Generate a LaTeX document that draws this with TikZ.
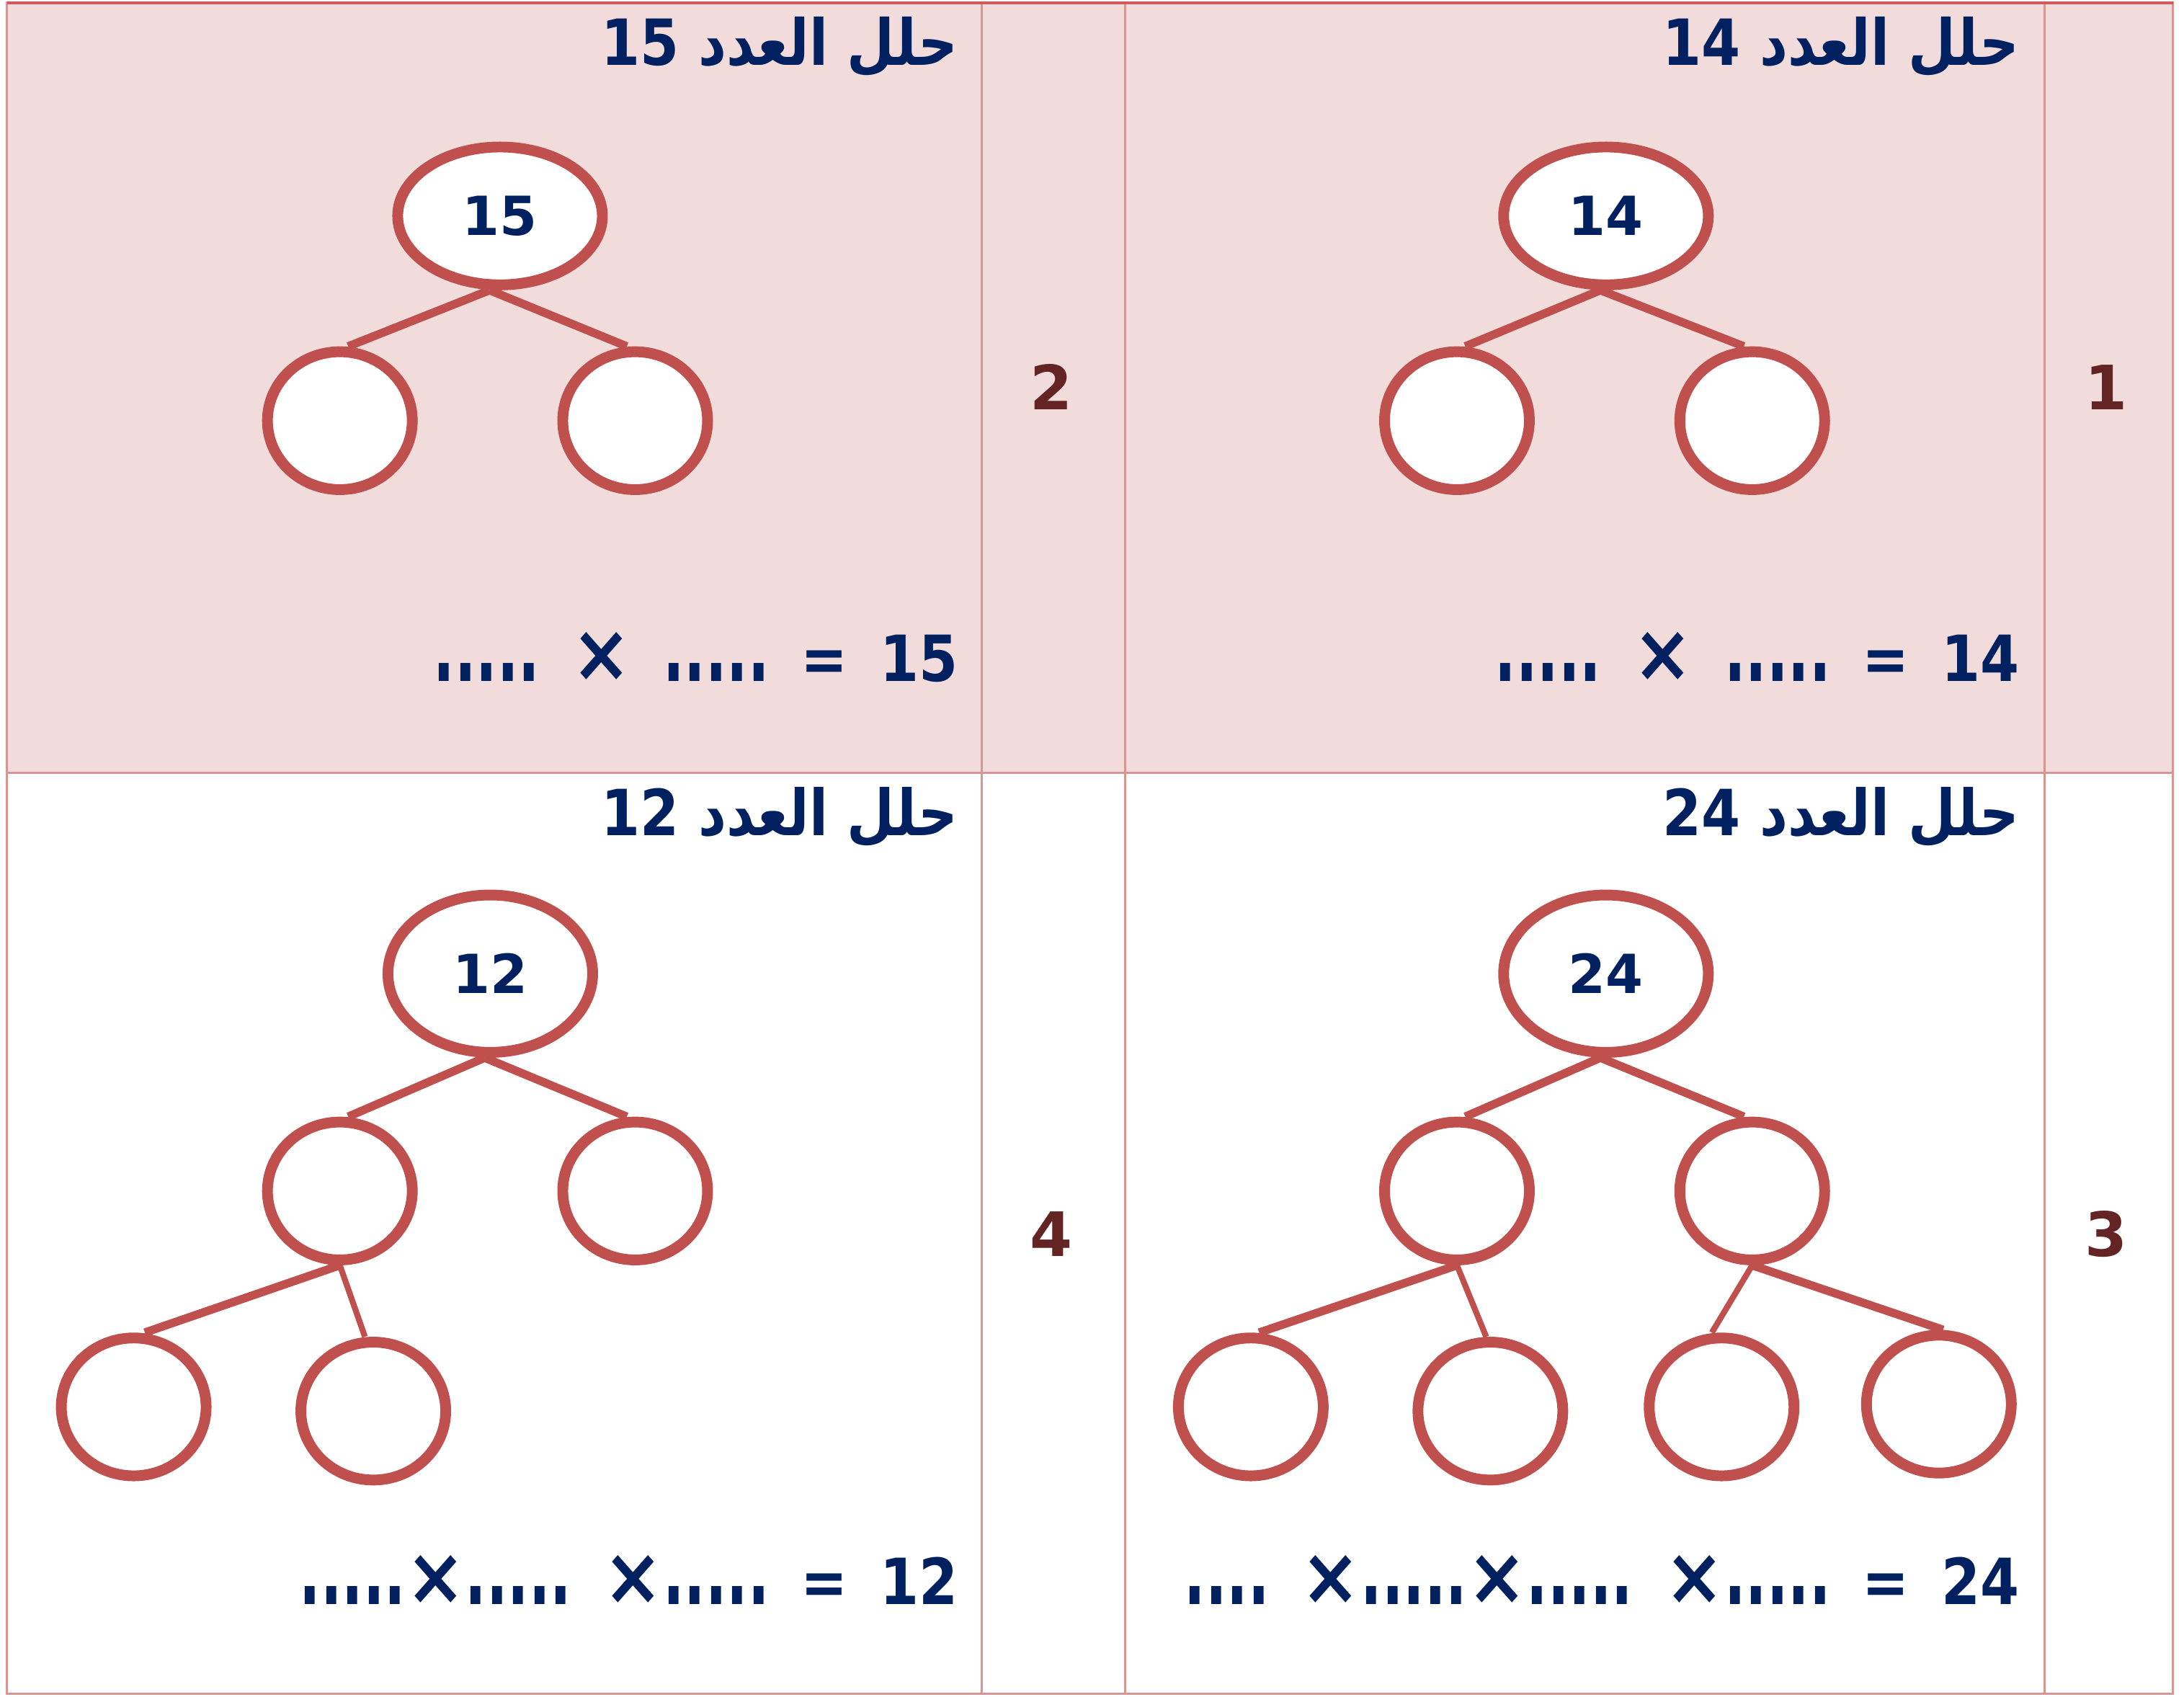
\documentclass[tikz,border=0pt]{standalone}
\usepackage{fontspec}
\setmainfont{DejaVu Sans}
\newfontfamily\arabicfont[Script=Arabic,FakeStretch=0.86]{DejaVu Sans}
\newfontfamily\condfont[FakeStretch=0.88]{DejaVu Sans}
\TeXXeTstate=1
\usetikzlibrary{shapes.geometric}
\definecolor{pinkfill}{HTML}{F2DCDB}
\definecolor{gridred}{HTML}{D99594}
\definecolor{topred}{HTML}{D25A5F}
\definecolor{treered}{HTML}{C0504D}
\definecolor{navy}{HTML}{002060}
\definecolor{numred}{HTML}{632423}
\newcommand\gp{\hspace{0.5em}}
\newcommand\tm{{\fontsize{33}{33}\selectfont ×}}
\newcommand\dd[1]{\scalebox{1}[1.5]{#1}}
\tikzset{
  root/.style={ellipse, draw=treered, line width=4.4pt, fill=white, inner sep=0pt,
    minimum width=2.94cm, minimum height=1.98cm, text=navy,
    font=\bfseries\fontsize{22}{24}\selectfont},
  rootb/.style={root, minimum height=2.26cm},
  leaf/.style={ellipse, draw=treered, line width=4.4pt, fill=white, inner sep=0pt,
    minimum width=2.08cm, minimum height=1.98cm},
  branch/.style={draw=treered, line width=3.4pt},
  thinbranch/.style={draw=treered, line width=2.4pt},
  heading/.style={anchor=base east, text=navy, inner sep=0pt,
    font=\bfseries\fontsize{26}{28}\selectfont},
  equation/.style={anchor=base east, text=navy, inner sep=0pt,
    font=\condfont\bfseries\fontsize{26}{28}\selectfont},
  rownum/.style={text=numred, inner sep=0pt,
    font=\bfseries\fontsize{25}{27}\selectfont},
  gridline/.style={draw=gridred, line width=0.9pt},
}
\begin{document}
\begin{tikzpicture}[x=0.02cm, y=-0.02cm]
\useasboundingbox (0,0) rectangle (1568,1218);
% table
\fill[white] (0,0) rectangle (1568,1218);
\fill[pinkfill] (5,2) rectangle (1560,555);
\draw[gridline] (5,2) rectangle (1560,1216);
\draw[gridline] (5,555) -- (1560,555);
\draw[gridline] (705,2) -- (705,1216);
\draw[gridline] (808,2) -- (808,1216);
\draw[gridline] (1468,2) -- (1468,1216);
\draw[draw=topred, line width=1.2pt] (5,2) -- (1560,2);

% row numbers
\node[rownum] (n1) at (1512,278) {1};
\node[rownum] (n2) at (755,278) {2};
\node[rownum] (n3) at (1512,886) {3};
\node[rownum] (n4) at (755,886) {4};

% headings
\node[heading] (h1) at (1450,47) {\arabicfont\beginR حلل العدد \beginL{\condfont 14}\endL\endR};
\node[heading] (h2) at (688,47) {\arabicfont\beginR حلل العدد \beginL{\condfont 15}\endL\endR};
\node[heading] (h3) at (1450,600) {\arabicfont\beginR حلل العدد \beginL{\condfont 24}\endL\endR};
\node[heading] (h4) at (688,600) {\arabicfont\beginR حلل العدد \beginL{\condfont 12}\endL\endR};

% equations
\node[equation] (e1) at (1450,489) {\dd{.....}\gp\tm\gp\dd{.....}\gp=\gp14};
\node[equation] (e2) at (688,489) {\dd{.....}\gp\tm\gp\dd{.....}\gp=\gp15};
\node[equation] (e3) at (1450,1152) {\dd{....}\gp\tm\dd{.....}\tm\dd{.....}\gp\tm\dd{.....}\gp=\gp24};
\node[equation] (e4) at (688,1152) {\dd{.....}\tm\dd{.....}\gp\tm\dd{.....}\gp=\gp12};

% panel 1
\node[root] (r1) at (1153,155) {14};
\node[leaf] (c1a) at (1046,302) {};
\node[leaf] (c1b) at (1258,302) {};
\draw[branch] ([xshift=-0.08cm]r1.south) -- ([xshift=0.12cm]c1a.north);
\draw[branch] ([xshift=-0.08cm]r1.south) -- ([xshift=-0.12cm]c1b.north);

% panel 2
\node[root] (r2) at (359,155) {15};
\node[leaf] (c2a) at (244,302) {};
\node[leaf] (c2b) at (456,302) {};
\draw[branch] ([xshift=-0.15cm]r2.south) -- ([xshift=0.12cm]c2a.north);
\draw[branch] ([xshift=-0.15cm]r2.south) -- ([xshift=-0.12cm]c2b.north);

% panel 3
\node[rootb] (r3) at (1153,699) {24};
\node[leaf] (c3a) at (1046,855) {};
\node[leaf] (c3b) at (1258,855) {};
\node[leaf] (g3a) at (898,1010) {};
\node[leaf] (g3b) at (1070,1013) {};
\node[leaf] (g3c) at (1236,1010) {};
\node[leaf] (g3d) at (1392,1008) {};
\draw[branch] ([xshift=-0.08cm]r3.south) -- ([xshift=0.12cm]c3a.north);
\draw[branch] ([xshift=-0.08cm]r3.south) -- ([xshift=-0.12cm]c3b.north);
\draw[branch] (c3a.south) -- ([xshift=0.12cm]g3a.north);
\draw[thinbranch] (c3a.south) -- ([xshift=-0.06cm]g3b.north);
\draw[thinbranch] (c3b.south) -- ([xshift=-0.14cm]g3c.north);
\draw[branch] (c3b.south) -- ([xshift=0.06cm]g3d.north);

% panel 4
\node[rootb] (r4) at (352,699) {12};
\node[leaf] (c4a) at (244,855) {};
\node[leaf] (c4b) at (456,855) {};
\node[leaf] (g4a) at (96,1010) {};
\node[leaf] (g4b) at (268,1013) {};
\draw[branch] ([xshift=-0.08cm]r4.south) -- ([xshift=0.12cm]c4a.north);
\draw[branch] ([xshift=-0.08cm]r4.south) -- ([xshift=-0.12cm]c4b.north);
\draw[branch] (c4a.south) -- ([xshift=0.16cm]g4a.north);
\draw[thinbranch] (c4a.south) -- ([xshift=-0.12cm]g4b.north);
\end{tikzpicture}
\end{document}
